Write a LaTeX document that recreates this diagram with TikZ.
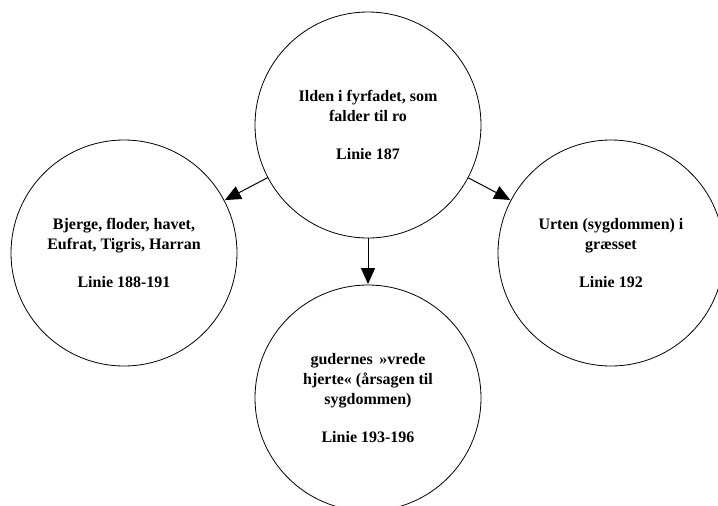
\documentclass[tikz,border=0pt]{standalone}
\usepackage{fontspec}
\setmainfont{Liberation Serif}
\usetikzlibrary{arrows.meta}
\begin{document}
\begin{tikzpicture}[x=1pt,y=1pt,
  bubble/.style={draw, circle, line width=0.8pt, minimum size=226pt, inner sep=0pt,
    align=center, font=\fontsize{16}{20}\selectfont\bfseries},
  link/.style={line width=1pt, -{Triangle[length=16pt,width=14pt]}, shorten >=0.5pt}]
\useasboundingbox (0,0) rectangle (718,-506);
\node[bubble] (fire)   at (368,-125) {Ilden i fyrfadet, som\\falder til ro\\[18pt]Linie 187};
\node[bubble] (rivers) at (124,-253) {Bjerge, floder, havet,\\Eufrat, Tigris, Harran\\[18pt]Linie 188-191};
\node[bubble] (herb)   at (611,-253) {Urten (sygdommen) i\\græsset\\[18pt]Linie 192};
\node[bubble] (gods)   at (368,-398) {gudernes \,»vrede\\hjerte« (årsagen til\\sygdommen)\\[18pt]Linie 193-196};
\draw[link] (fire) -- (rivers);
\draw[link] (fire) -- (herb);
\draw[link] (fire) -- (gods);
\end{tikzpicture}
\end{document}
